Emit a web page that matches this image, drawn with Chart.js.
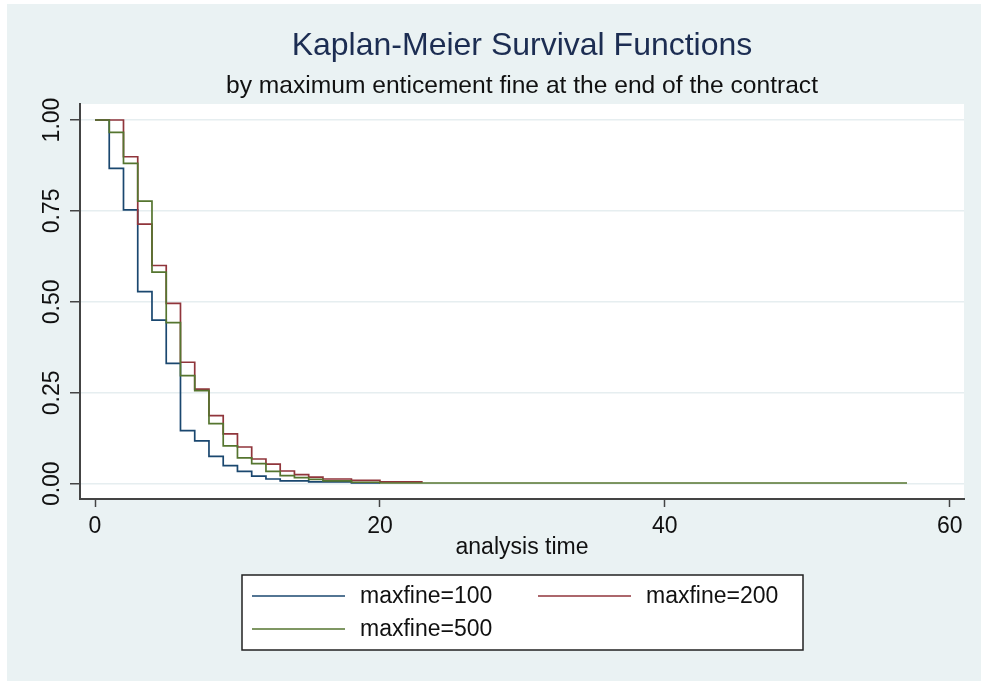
<!DOCTYPE html>
<html lang="en">
<head>
    <meta charset="UTF-8">
    <title>Kaplan-Meier Survival Functions</title>
    <script src="https://cdn.jsdelivr.net/npm/chart.js"></script>
    <style>
        html, body {
            margin: 0;
            padding: 0;
            background: #ffffff;
        }
        .chart-box {
            position: relative;
            width: 981px;
            height: 681px;
        }
    </style>
</head>
<body>
<div class="chart-box">
    <canvas id="kmChart"></canvas>
</div>

<script>
    // Survival estimates (analysis time -> S(t))
    const times100 = [0, 1, 2, 3, 4, 5, 6, 7, 8, 9, 10, 11, 12, 13, 15, 18, 20];
    const surv100 = [1.0, 0.867, 0.753, 0.528, 0.45, 0.331, 0.146, 0.118, 0.075, 0.05, 0.034, 0.021, 0.013, 0.008, 0.005, 0.002, 0.002];

    const times200 = [0, 1, 2, 3, 4, 5, 6, 7, 8, 9, 10, 11, 12, 13, 14, 15, 16, 18, 20, 23];
    const surv200 = [1.0, 1.0, 0.899, 0.714, 0.60, 0.496, 0.334, 0.26, 0.187, 0.137, 0.101, 0.068, 0.054, 0.035, 0.025, 0.018, 0.013, 0.009, 0.005, 0.005];

    const times500 = [0, 1, 2, 3, 4, 5, 6, 7, 8, 9, 10, 11, 12, 13, 14, 15, 16, 18, 20, 57];
    const surv500 = [1.0, 0.966, 0.881, 0.777, 0.582, 0.443, 0.297, 0.256, 0.165, 0.104, 0.071, 0.055, 0.034, 0.022, 0.017, 0.012, 0.008, 0.004, 0.002, 0.002];

    const seriesLabels = ['maxfine=100', 'maxfine=200', 'maxfine=500'];
    const xTicks = [0, 20, 40, 60];
    const yTicks = [0, 0.25, 0.5, 0.75, 1];

    const FONT = '"Liberation Sans", Arial, sans-serif';
    const colors = ['#1a476f', '#90353b', '#55752f'];

    function toPoints(times, surv) {
        return times.map((t, i) => ({x: t, y: surv[i]}));
    }

    // backgrounds: outer bluish-gray frame and white plot region
    const backgroundPlugin = {
        id: 'stataBackground',
        beforeDraw(chart) {
            const ctx = chart.ctx;
            const area = chart.chartArea;
            ctx.save();
            ctx.fillStyle = '#ffffff';
            ctx.fillRect(0, 0, chart.width, chart.height);
            ctx.fillStyle = '#eaf2f3';
            ctx.fillRect(7, 4, chart.width - 7, chart.height - 4);
            ctx.fillStyle = '#ffffff';
            ctx.fillRect(area.left, area.top, area.right - area.left, area.bottom - area.top);
            ctx.restore();
        }
    };

    // boxed legend under the axis title, two columns
    const boxLegendPlugin = {
        id: 'boxLegend',
        afterDraw(chart) {
            const ctx = chart.ctx;
            const box = {left: 242, top: 575, right: 803, bottom: 650};
            const colX = [252, 538];
            const rowY = [596, 629];
            ctx.save();
            ctx.fillStyle = '#ffffff';
            ctx.fillRect(box.left, box.top, box.right - box.left, box.bottom - box.top);
            ctx.strokeStyle = '#222222';
            ctx.lineWidth = 1.5;
            ctx.strokeRect(box.left, box.top, box.right - box.left, box.bottom - box.top);
            ctx.font = '23px ' + FONT;
            ctx.textBaseline = 'middle';
            ctx.textAlign = 'left';
            chart.data.datasets.forEach((ds, i) => {
                const x = colX[i % 2];
                const y = rowY[Math.floor(i / 2)];
                ctx.strokeStyle = ds.borderColor;
                ctx.lineWidth = 1.6;
                ctx.beginPath();
                ctx.moveTo(x, y);
                ctx.lineTo(x + 93, y);
                ctx.stroke();
                ctx.fillStyle = '#111111';
                ctx.fillText(ds.label, x + 108, y + 1);
            });
            ctx.restore();
        }
    };

    const datasets = [
        toPoints(times100, surv100),
        toPoints(times200, surv200),
        toPoints(times500, surv500)
    ].map((pts, i) => ({
        label: seriesLabels[i],
        data: pts,
        borderColor: colors[i],
        backgroundColor: colors[i],
        borderWidth: 1.7,
        pointRadius: 0,
        stepped: true,
        fill: false,
        order: 3 - i
    }));

    new Chart(document.getElementById('kmChart').getContext('2d'), {
        type: 'line',
        data: {datasets: datasets},
        plugins: [backgroundPlugin, boxLegendPlugin],
        options: {
            responsive: true,
            maintainAspectRatio: false,
            animation: false,
            layout: {padding: {top: 0, left: 0, right: 17, bottom: 0}},
            plugins: {
                legend: {display: false},
                tooltip: {enabled: false},
                title: {
                    display: true,
                    fullSize: false,
                    text: 'Kaplan-Meier Survival Functions',
                    color: '#1c2d52',
                    font: {family: FONT, size: 32, weight: 'normal', lineHeight: 1.2},
                    padding: {top: 27, bottom: 0}
                },
                subtitle: {
                    display: true,
                    fullSize: false,
                    text: 'by maximum enticement fine at the end of the contract',
                    color: '#111111',
                    font: {family: FONT, size: 24.6, weight: 'normal', lineHeight: 1.2},
                    padding: {top: 6, bottom: 3.1}
                }
            },
            scales: {
                x: {
                    type: 'linear',
                    min: -1.053,
                    max: 61.0,
                    afterFit(scale) { scale.height = 182; },
                    afterBuildTicks(scale) { scale.ticks = xTicks.map(v => ({value: v})); },
                    border: {color: '#444444', width: 2},
                    grid: {drawOnChartArea: false, drawTicks: true, tickLength: 8, tickColor: '#444444', tickWidth: 1.5},
                    ticks: {
                        color: '#111111',
                        padding: 5.5,
                        maxRotation: 0,
                        font: {family: FONT, size: 23}
                    },
                    title: {
                        display: true,
                        text: 'analysis time',
                        color: '#111111',
                        font: {family: FONT, size: 23, lineHeight: 1.2},
                        padding: {top: 0, bottom: 119.2}
                    }
                },
                y: {
                    type: 'linear',
                    min: -0.042,
                    max: 1.044,
                    afterFit(scale) { scale.width = 80; },
                    afterBuildTicks(scale) { scale.ticks = yTicks.map(v => ({value: v})); },
                    border: {color: '#444444', width: 2},
                    grid: {color: '#e6eef0', lineWidth: 1.5, drawTicks: true, tickLength: 10, tickColor: '#444444', tickWidth: 1.5},
                    ticks: {
                        color: '#111111',
                        padding: -5.2,
                        crossAlign: 'center',
                        minRotation: 90,
                        maxRotation: 90,
                        font: {family: FONT, size: 23},
                        callback: v => v.toFixed(2)
                    }
                }
            }
        }
    });
</script>
</body>
</html>
